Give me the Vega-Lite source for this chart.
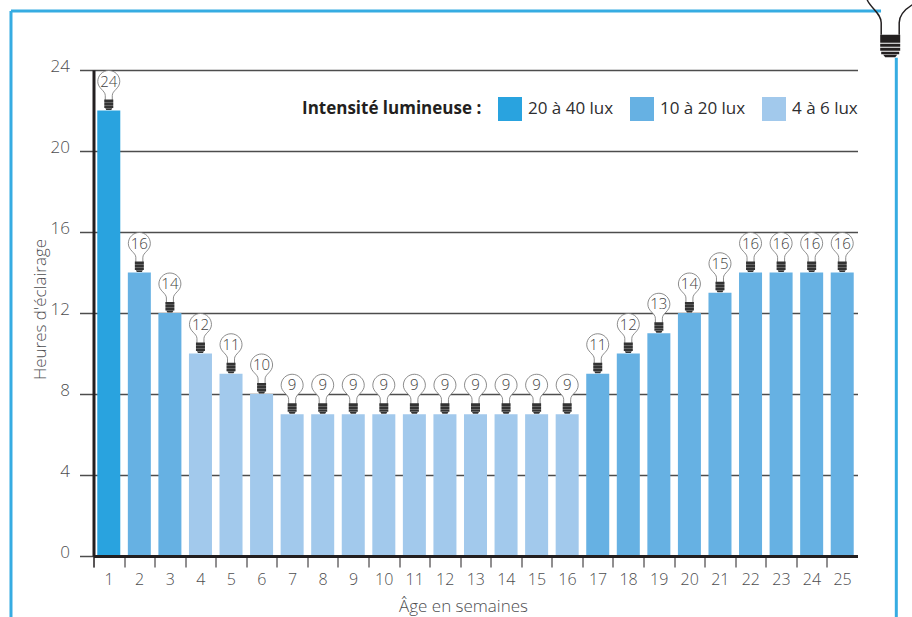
{
  "$schema": "https://vega.github.io/schema/vega-lite/v6.json",
  "width": 764,
  "height": 486,
  "autosize": {"type": "none"},
  "padding": {"left": 93.5, "top": 70, "right": 54.5, "bottom": 61},
  "background": "white",
  "config": {"view": {"stroke": null}, "font": "Open Sans"},
  "datasets": {
    "semaines": [
      {"Semaine": 1, "Heures": 22, "Ampoule": 24, "Intensite": "20 à 40 lux"},
      {"Semaine": 2, "Heures": 14, "Ampoule": 16, "Intensite": "10 à 20 lux"},
      {"Semaine": 3, "Heures": 12, "Ampoule": 14, "Intensite": "10 à 20 lux"},
      {"Semaine": 4, "Heures": 10, "Ampoule": 12, "Intensite": "4 à 6 lux"},
      {"Semaine": 5, "Heures": 9, "Ampoule": 11, "Intensite": "4 à 6 lux"},
      {"Semaine": 6, "Heures": 8, "Ampoule": 10, "Intensite": "4 à 6 lux"},
      {"Semaine": 7, "Heures": 7, "Ampoule": 9, "Intensite": "4 à 6 lux"},
      {"Semaine": 8, "Heures": 7, "Ampoule": 9, "Intensite": "4 à 6 lux"},
      {"Semaine": 9, "Heures": 7, "Ampoule": 9, "Intensite": "4 à 6 lux"},
      {"Semaine": 10, "Heures": 7, "Ampoule": 9, "Intensite": "4 à 6 lux"},
      {"Semaine": 11, "Heures": 7, "Ampoule": 9, "Intensite": "4 à 6 lux"},
      {"Semaine": 12, "Heures": 7, "Ampoule": 9, "Intensite": "4 à 6 lux"},
      {"Semaine": 13, "Heures": 7, "Ampoule": 9, "Intensite": "4 à 6 lux"},
      {"Semaine": 14, "Heures": 7, "Ampoule": 9, "Intensite": "4 à 6 lux"},
      {"Semaine": 15, "Heures": 7, "Ampoule": 9, "Intensite": "4 à 6 lux"},
      {"Semaine": 16, "Heures": 7, "Ampoule": 9, "Intensite": "4 à 6 lux"},
      {"Semaine": 17, "Heures": 9, "Ampoule": 11, "Intensite": "10 à 20 lux"},
      {"Semaine": 18, "Heures": 10, "Ampoule": 12, "Intensite": "10 à 20 lux"},
      {"Semaine": 19, "Heures": 11, "Ampoule": 13, "Intensite": "10 à 20 lux"},
      {"Semaine": 20, "Heures": 12, "Ampoule": 14, "Intensite": "10 à 20 lux"},
      {"Semaine": 21, "Heures": 13, "Ampoule": 15, "Intensite": "10 à 20 lux"},
      {"Semaine": 22, "Heures": 14, "Ampoule": 16, "Intensite": "10 à 20 lux"},
      {"Semaine": 23, "Heures": 14, "Ampoule": 16, "Intensite": "10 à 20 lux"},
      {"Semaine": 24, "Heures": 14, "Ampoule": 16, "Intensite": "10 à 20 lux"},
      {"Semaine": 25, "Heures": 14, "Ampoule": 16, "Intensite": "10 à 20 lux"}
    ],
    "cadre": [
      {"xa": -2.2, "xb": -2.2, "ya": 26.91, "yb": -3.01},
      {"xa": -2.2, "xb": 26.27, "ya": 26.91, "yb": 26.91},
      {"xa": 26.77, "xb": 26.77, "ya": 24.6, "yb": -3.01}
    ],
    "grandeAmpoule": [{"xa": 26.57, "ya": 24.6}]
  },
  "resolve": {"scale": {"x": "independent"}},
  "layer": [
    {
      "data": {"name": "semaines"},
      "encoding": {
        "x": {
          "field": "Semaine",
          "type": "ordinal",
          "scale": {
            "domain": [1,2,3,4,5,6,7,8,9,10,11,12,13,14,15,16,17,18,19,20,21,22,23,24,25],
            "paddingInner": 0.247,
            "paddingOuter": 0.1235
          },
          "axis": {
            "title": "Âge en semaines",
            "titleFont": "Open Sans",
            "titleFontSize": 17,
            "titleFontWeight": 300,
            "titleColor": "#4d4d4f",
            "titleX": 369.5,
            "titleY": 42,
            "labelAngle": 0,
            "labelFont": "Open Sans",
            "labelFontSize": 16,
            "labelFontWeight": 300,
            "labelColor": "#4d4d4f",
            "labelPadding": 4,
            "labelOffset": 3.6,
            "bandPosition": 0,
            "tickExtra": true,
            "tickOffset": -3.8,
            "tickSize": 11,
            "tickColor": "#231f20",
            "tickWidth": 1,
            "domainColor": "#231f20",
            "domainWidth": 3,
            "zindex": 1
          }
        }
      },
      "layer": [
        {
          "mark": {"type": "bar", "opacity": 1},
          "encoding": {
            "y": {
              "field": "Heures",
              "type": "quantitative",
              "scale": {"domain": [0, 24], "nice": false},
              "axis": {
                "title": "Heures d'éclairage",
                "titleFont": "Open Sans",
                "titleFontSize": 17,
                "titleFontWeight": 300,
                "titleColor": "#4d4d4f",
                "titleX": -44,
                "titleY": 239,
                "values": [0, 4, 8, 12, 16, 20, 24],
                "grid": true,
                "gridColor": "#4d4d4d",
                "gridWidth": 1.5,
                "tickSize": 14,
                "tickColor": "#4d4d4d",
                "tickWidth": 1.5,
                "labelFont": "Open Sans",
                "labelFontSize": 17,
                "labelFontWeight": 300,
                "labelColor": "#4d4d4f",
                "labelPadding": 10,
                "labelOffset": -4,
                "domainColor": "#231f20",
                "domainWidth": 3
              }
            },
            "color": {
              "field": "Intensite",
              "type": "nominal",
              "scale": {
                "domain": ["20 à 40 lux", "10 à 20 lux", "4 à 6 lux"],
                "range": ["#29a3df", "#66b1e3", "#a2c9ec"]
              },
              "legend": {
                "title": "Intensité lumineuse :",
                "titleOrient": "left",
                "titleFont": "Open Sans",
                "titleFontSize": 17,
                "titleFontWeight": "bold",
                "titleColor": "#231f20",
                "titlePadding": 16,
                "orient": "none",
                "legendX": 208.5,
                "legendY": 27,
                "direction": "horizontal",
                "columns": 3,
                "columnPadding": 16,
                "symbolType": "square",
                "symbolSize": 576,
                "symbolStrokeWidth": 0,
                "symbolOpacity": 1,
                "labelFont": "Open Sans",
                "labelFontSize": 17,
                "labelColor": "#2e2e30",
                "labelOffset": 6
              }
            }
          }
        },
        {
          "mark": {
            "type": "point",
            "shape": "M-3.5,-9 L-3.5,-15 C-3.5,-20 -11,-22 -11,-29 A11,11 0 1 1 11,-29 C11,-22 3.5,-20 3.5,-15 L3.5,-9 Z",
            "size": 4,
            "filled": true,
            "fill": "white",
            "stroke": "#6f6f6f",
            "strokeWidth": 0.8,
            "opacity": 1
          },
          "encoding": {"y": {"field": "Heures", "type": "quantitative"}}
        },
        {
          "mark": {
            "type": "point",
            "shape": "M-4.5,-11 H4.5 V-8.2 H-4.5 Z M-4.5,-7.9 H4.5 V-5.2 H-4.5 Z M-4.5,-4.9 H4.5 V-2.4 H-4.5 Z M-3.5,-2.2 H3.5 L2.5,-0.4 H-2.5 Z",
            "size": 4,
            "filled": true,
            "fill": "#333333",
            "stroke": null,
            "opacity": 1
          },
          "encoding": {"y": {"field": "Heures", "type": "quantitative"}}
        },
        {
          "mark": {
            "type": "text",
            "dy": -29,
            "baseline": "middle",
            "align": "center",
            "font": "Open Sans",
            "fontSize": 15,
            "fontWeight": 300,
            "color": "#3f3f41"
          },
          "encoding": {
            "y": {"field": "Heures", "type": "quantitative"},
            "text": {"field": "Ampoule", "type": "quantitative"}
          }
        }
      ]
    },
    {
      "encoding": {
        "x": {
          "field": "xa",
          "type": "quantitative",
          "scale": {"domain": [0.5, 25.5], "nice": false, "zero": false},
          "axis": null
        },
        "y": {"field": "ya", "type": "quantitative"}
      },
      "layer": [
        {
          "data": {"name": "cadre"},
          "mark": {"type": "rule", "color": "#36ace2", "strokeWidth": 3, "opacity": 1},
          "encoding": {"x2": {"field": "xb"}, "y2": {"field": "yb"}}
        },
        {
          "data": {"name": "grandeAmpoule"},
          "mark": {
            "type": "point",
            "shape": "M-23,-58 C-20,-50 -9,-45 -9,-35 V-23 M9,-23 V-35 C9,-42 14,-48 22,-53",
            "size": 4,
            "filled": false,
            "stroke": "#231f20",
            "strokeWidth": 1.5,
            "opacity": 1
          }
        },
        {
          "data": {"name": "grandeAmpoule"},
          "mark": {
            "type": "point",
            "shape": "M-10,-23 H10 V-15 H-10 Z M-10,-14 H10 V-11 H-10 Z M-10,-10 H10 V-7 H-10 Z M-9,-6 H9 V-3.5 H-9 Z M-7,-3 H7 L5,-0.5 H-5 Z",
            "size": 4,
            "filled": true,
            "fill": "#231f20",
            "stroke": null,
            "opacity": 1
          }
        }
      ]
    }
  ]
}
